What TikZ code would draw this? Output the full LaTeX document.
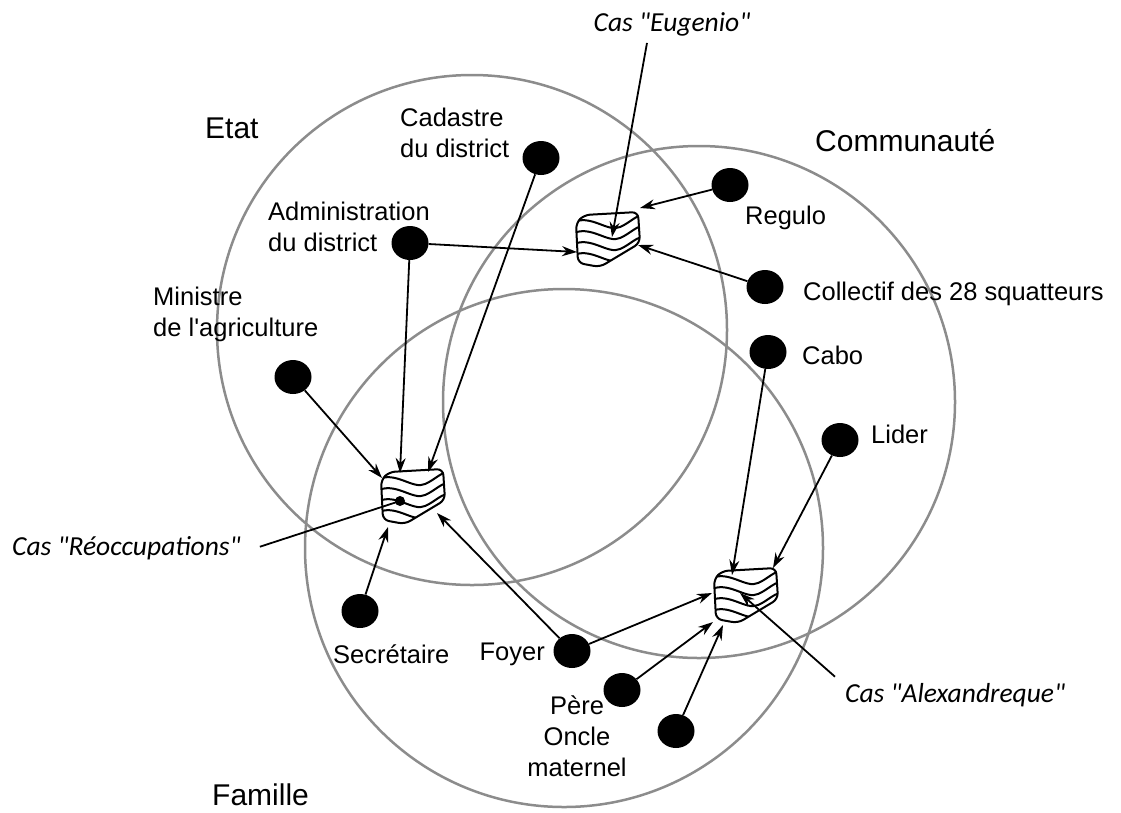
\documentclass[tikz,border=0pt]{standalone}
\usepackage{fontspec}
\setmainfont{Liberation Sans}
\newfontfamily\carl{Carlito}
\usetikzlibrary{shapes.geometric,arrows.meta,calc}
\definecolor{ringgray}{RGB}{140,140,140}
\newcommand\parcelshape{(-32,-17) -- (-24,-25) -- (30,-28) -- (32,3) -- (-8,27) -- (-30,23) -- cycle}
\newcommand\parcel[3]{%
  \node[parcelbox] (#1) at (#2,#3) {};
  \begin{scope}[shift={(#2,#3)}]
    \begin{scope}
      \clip[rounded corners=6pt] \parcelshape;
      \foreach \yy in {-17,-6,5,16}{
        \draw[hatch] (-36,\yy) .. controls (-18,\yy-10) and (0,\yy+10) .. (12,\yy+4)
                      .. controls (22,\yy) and (30,\yy-10) .. (38,\yy-8);
      }
    \end{scope}
    \draw[hatch,rounded corners=6pt] \parcelshape;
  \end{scope}}
\begin{document}
\begin{tikzpicture}[x=1pt,y=-1pt,
  ring/.style={draw=ringgray,line width=2.5pt},
  ball/.style={ellipse,fill=black,minimum width=37pt,minimum height=34pt,inner sep=0pt},
  lbl/.style={font=\fontsize{25.5}{31}\selectfont,inner sep=0pt,align=left},
  big/.style={font=\fontsize{30}{36}\selectfont,inner sep=0pt},
  cas/.style={font=\carl\itshape\fontsize{27.5}{33}\selectfont,inner sep=0pt},
  link/.style={line width=1.8pt,-{Stealth[length=15pt,width=10pt]}},
  plain/.style={line width=1.8pt},
  hatch/.style={line width=2pt},
  parcelbox/.style={rectangle,minimum width=64pt,minimum height=52pt,inner sep=0pt},
  dot/.style={circle,fill=black,inner sep=0pt,minimum size=10pt}
]
\useasboundingbox (0,0) rectangle (1121,812);

% circles
\draw[ring] (472,330) circle[radius=255];
\draw[ring] (699,402) circle[radius=256];
\draw[ring] (564,548) circle[radius=259];

% big labels
\node[big,anchor=base west] (etat) at (205,138) {Etat};
\node[big,anchor=base west] (comm) at (815,151) {Communauté};
\node[big,anchor=base west] (fam) at (212,805) {Famille};

% parcels
\parcel{P1}{608}{240}
\parcel{P2}{413}{497}
\parcel{P3}{746}{596}

% balls
\node[ball] (cad) at (541,158) {};
\node[ball] (reg) at (730,185) {};
\node[ball] (adm) at (410,243) {};
\node[ball] (col) at (765,287) {};
\node[ball] (cab) at (768,352) {};
\node[ball] (min) at (293,377) {};
\node[ball] (lid) at (840,440) {};
\node[ball] (sec) at (360,611) {};
\node[ball] (foy) at (572,651) {};
\node[ball] (pere) at (622,690) {};
\node[ball] (onc) at (676,731) {};

% labels
\node[lbl,anchor=north west] (tcad) at (400,108) {Cadastre\\du district};
\node[lbl,anchor=north west] (tadm) at (268,202) {Administration\\du district};
\node[lbl,anchor=north west] (tmin) at (153,287) {Ministre\\de l\textquotesingle agriculture};
\node[lbl,anchor=base west] (treg) at (745,224) {Regulo};
\node[lbl,anchor=base west] (tcol) at (803,300) {Collectif des 28 squatteurs};
\node[lbl,anchor=base west] (tcab) at (802,364) {Cabo};
\node[lbl,anchor=base west] (tlid) at (871,443) {Lider};
\node[lbl,anchor=base west] (tsec) at (333,663) {Secrétaire};
\node[lbl,anchor=base east] (tfoy) at (545,660) {Foyer};
\node[lbl,align=center,anchor=north] (tpere) at (577,696) {Père\\Oncle\\maternel};

\node[cas,anchor=base] (cEug) at (672,31) {Cas "Eugenio"};
\node[cas,anchor=base west] (cReo) at (12,555) {Cas "Réoccupations"};
\node[cas,anchor=base west] (cAlx) at (845,702) {Cas "Alexandreque"};

% dot in parcel P2
\node[dot] (rdot) at ([shift={(-13,4)}]P2.center) {};

% connectors to P1
\draw[link] ([shift={(-25,7)}]cEug.south) -- ([shift={(4,-3)}]P1.center);
\draw[link] (reg) -- ([shift={(32,-32)}]P1.center);
\draw[link] (col) -- ([shift={(30,5)}]P1.center);
\draw[link] (adm) -- ([shift={(-31,12)}]P1.center);

% connectors to P2
\draw[link] (min) -- ([shift={(-31,-19)}]P2.center);
\draw[link] (adm) -- ([shift={(-13,-24)}]P2.center);
\draw[link] (cad) -- ([shift={(15,-25)}]P2.center);
\draw[link] (sec) -- ([shift={(-25,30)}]P2.center);
\draw[link] (foy) -- ([shift={(24,16)}]P2.center);
\draw[plain] ([shift={(19,-1)}]cReo.east) -- (rdot.center);

% connectors to P3
\draw[link] (cab) -- ([shift={(-14,-21)}]P3.center);
\draw[link] (lid) -- ([shift={(27,-28)}]P3.center);
\draw[link] (foy) -- ([shift={(-34,-3)}]P3.center);
\draw[link] (pere) -- ([shift={(-33,26)}]P3.center);
\draw[link] (onc) -- ([shift={(-23,29)}]P3.center);
\draw[link] ([shift={(-10,-6)}]cAlx.north west) -- ([shift={(-6,-3)}]P3.center);
\end{tikzpicture}
\end{document}
